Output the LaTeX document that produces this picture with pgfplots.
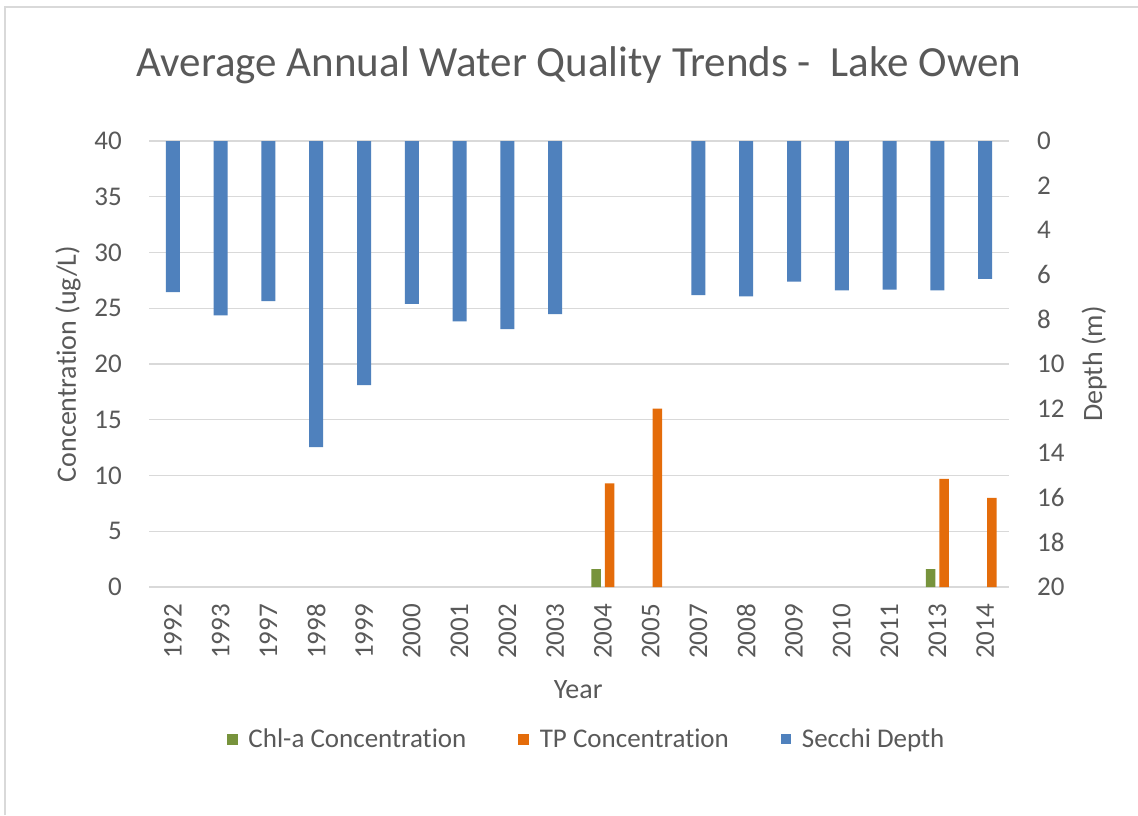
\documentclass[border=0pt]{standalone}
\usepackage{pgfplots}
\pgfplotsset{compat=1.18}
\usepackage{fontspec}
\setmainfont{Carlito}[Ligatures=NoCommon]
\definecolor{tgray}{HTML}{595959}
\definecolor{ggrid}{HTML}{D9D9D9}
\definecolor{cgreen}{HTML}{77933C}
\definecolor{corange}{HTML}{E46C0A}
\definecolor{cblue}{HTML}{4F81BD}
\begin{document}
\begin{tikzpicture}[x=1pt,y=1pt]
\useasboundingbox (0,0) rectangle (1138,815);
\fill[white] (0,0) rectangle (1138,815);
\draw[ggrid, line width=2.5pt] (5,0) -- (5,808) -- (1138,808);
\node[font=\fontsize{43}{49}\selectfont, text=tgray, anchor=base] at (579,738) {Average Annual Water Quality Trends -\ \ Lake Owen};
\begin{axis}[
  at={(149pt,228pt)}, anchor=south west, scale only axis,
  width=860pt, height=446pt,
  xmin=-0.5, xmax=17.5, ymin=0, ymax=40,
  ytick={0,5,...,40},
  xtick={0,...,17},
  xticklabels={1992,1993,1997,1998,1999,2000,2001,2002,2003,2004,2005,2007,2008,2009,2010,2011,2013,2014},
  axis line style={draw=none},
  major tick length=0pt,
  ymajorgrids, grid style={ggrid, line width=1.3pt},
  /pgf/number format/assume math mode=true,
  ticklabel style={font=\fontsize{27}{31}\selectfont, text=tgray, inner sep=0pt},
  xticklabel style={rotate=90, anchor=east},
  xticklabel shift=17pt,
  yticklabel style={anchor=east},
  yticklabel shift=27pt,
  xlabel={Year}, ylabel={Concentration (ug/L)},
  label style={font=\fontsize{28}{32}\selectfont, text=tgray},
  xlabel style={at={(axis description cs:0.499,-0.231)}, anchor=center},
  ylabel style={at={(axis description cs:-0.094,0.5)}, anchor=center, rotate=0},
  ybar,
]
\addplot[fill=cgreen, draw=none, bar width=9.5pt, bar shift=-6.75pt] coordinates {(9,1.6) (16,1.6)};
\addplot[fill=corange, draw=none, bar width=9.5pt, bar shift=6.75pt] coordinates {(9,9.3) (10,16.0) (16,9.7) (17,8.0)};
\end{axis}
\begin{axis}[
  at={(149pt,228pt)}, anchor=south west, scale only axis,
  width=860pt, height=446pt,
  xmin=-0.5, xmax=17.5, ymin=0, ymax=20, y dir=reverse,
  hide x axis, axis y line*=right,
  ytick={0,2,...,20},
  axis line style={draw=none},
  major tick length=0pt,
  /pgf/number format/assume math mode=true,
  ticklabel style={font=\fontsize{27}{31}\selectfont, text=tgray, inner sep=0pt},
  yticklabel style={anchor=west},
  yticklabel shift=28pt,
  ylabel={Depth (m)},
  ylabel style={font=\fontsize{28}{32}\selectfont, text=tgray, at={(axis description cs:1.099,0.5)}, anchor=center, rotate=0},
  ybar,
  legend style={at={(axis description cs:0.509,-0.341)}, anchor=center, draw=none, fill=none,
    font=\fontsize{27}{31}\selectfont, text=tgray, legend columns=3,
    /tikz/every odd column/.append style={column sep=9pt},
    /tikz/every even column/.append style={column sep=50pt}},
  legend cell align=left,
]
\addlegendimage{legend image code/.code={\fill[cgreen] (0pt,-5pt) rectangle (10pt,5pt);}}
\addlegendentry{Chl-a Concentration}
\addlegendimage{legend image code/.code={\fill[corange] (0pt,-5pt) rectangle (10pt,5pt);}}
\addlegendentry{TP Concentration}
\addplot[fill=cblue, draw=none, bar width=14pt, bar shift=0pt,
  legend image code/.code={\fill[cblue] (0pt,-5pt) rectangle (10pt,5pt);}]
  coordinates {(0,6.78) (1,7.82) (2,7.18) (3,13.73) (4,10.95) (5,7.30) (6,8.09) (7,8.44) (8,7.76)
  (11,6.91) (12,6.97) (13,6.31) (14,6.70) (15,6.66) (16,6.70) (17,6.18)};
\addlegendentry{Secchi Depth}
\end{axis}
\end{tikzpicture}
\end{document}
